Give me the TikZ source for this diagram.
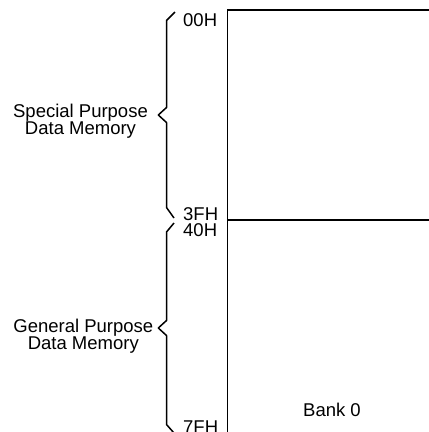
\documentclass[tikz,border=0pt]{standalone}
\usepackage{fontspec}
\setmainfont{Liberation Sans}
\begin{document}
\begin{tikzpicture}[x=1pt,y=-1pt,
  regionline/.style={line width=1.6pt},
  memtext/.style={inner sep=0pt, font=\fontsize{18.5}{17.5}\selectfont},
  addr/.style={memtext, anchor=base west},
  grouplabel/.style={memtext, align=center, anchor=center},
  bracepath/.style={line width=1.5pt, line join=round}]
\useasboundingbox (0,0) rectangle (429,432);
% group labels
\node[grouplabel] (gpl) at (83.3,336) {General Purpose\\Data Memory};
\node[grouplabel] (spl) at (80.5,121) {Special Purpose\\Data Memory};
% memory map outline
\coordinate (mtl) at (227.5,10);
\coordinate (mtr) at (432,10);
\coordinate (mml) at (227.5,220);
\coordinate (mmr) at (432,220);
\coordinate (mbl) at (227.5,436);
\draw[regionline] (mtr) -- (mtl) -- (mbl);
\draw[regionline] (mml) -- (mmr);
\node[memtext, anchor=base west] (bank) at (303,416) {Bank 0};
% addresses
\node[addr] (a00) at (183,26.7) {00H};
\node[addr] (a3f) at (183,220.5) {3FH};
\node[addr] (a40) at (183,236.5) {40H};
\node[addr] (a7f) at (183,433.5) {7FH};
% braces
\coordinate (b1top) at (175,12);
\coordinate (b1tip) at (158.3,115);
\coordinate (b1bot) at (174,218);
\coordinate (b2top) at (174,223);
\coordinate (b2tip) at (158.3,328);
\coordinate (b2bot) at (174,433);
\draw[bracepath] (b1top) -- (166.5,20.5) -- (166.5,107.5) -- (b1tip) -- (166.5,122.5) -- (166.5,207.5) -- (b1bot);
\draw[bracepath] (b2top) -- (166.5,232) -- (166.5,320.5) -- (b2tip) -- (166.5,335.5) -- (166.5,424.5) -- (b2bot);
\end{tikzpicture}
\end{document}
